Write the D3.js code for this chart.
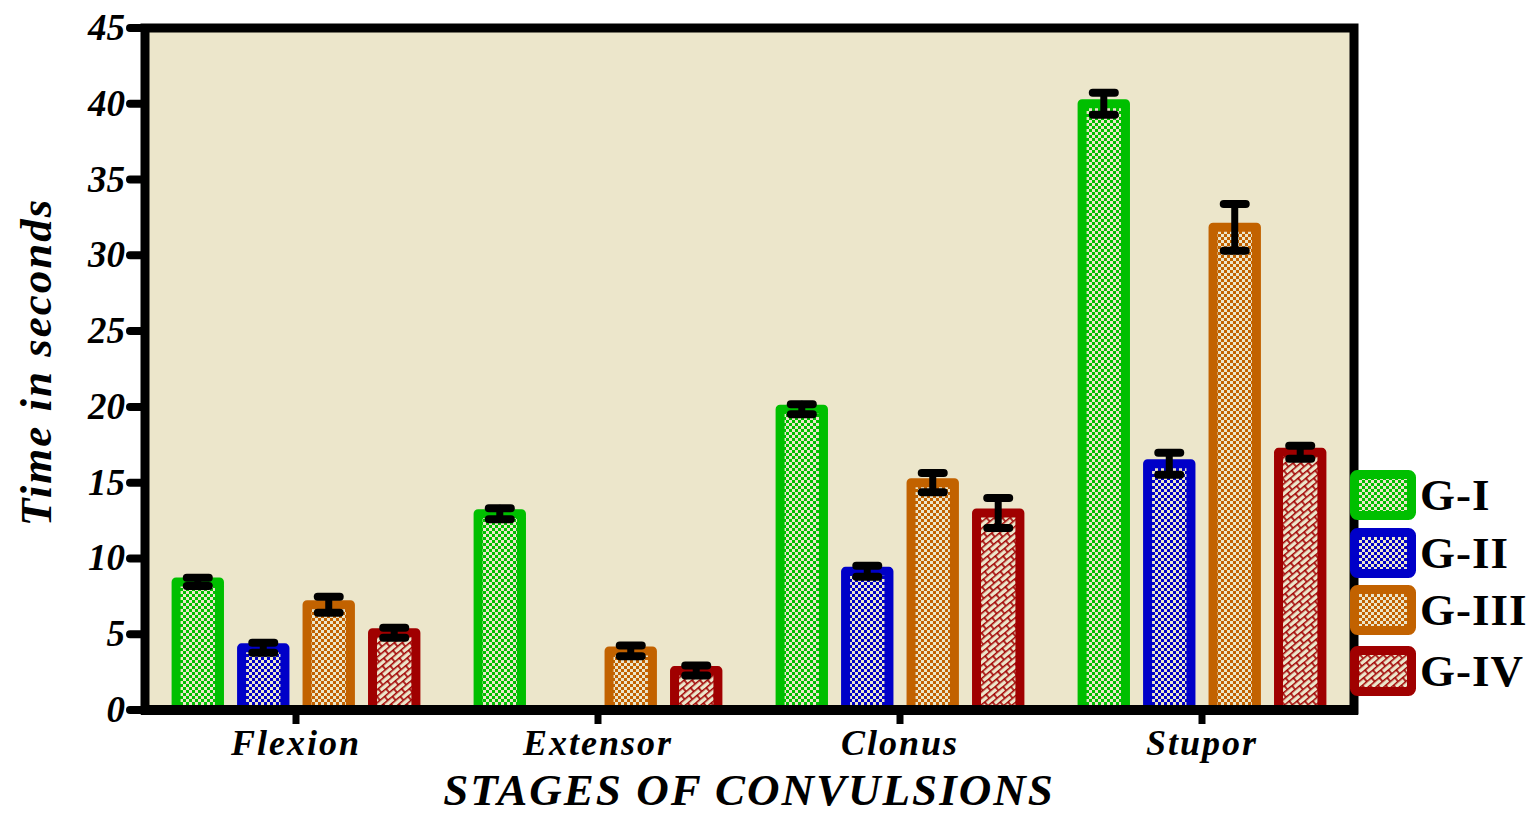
<!DOCTYPE html>
<html>
<head>
<meta charset="utf-8">
<script src="https://cdn.jsdelivr.net/npm/d3@7"></script>
<style>
  body { margin: 0; background: #fff; }
  text { font-family: "Liberation Serif", "Times New Roman", serif; font-weight: bold; }
</style>
</head>
<body>
<script>
// chart data
var stages = ["Flexion", "Extensor", "Clonus", "Stupor"];
var groups = ["G-I", "G-II", "G-III", "G-IV"];
var means = [
  [8.45, 12.95, 19.85, 40.0],  // G-I
  [4.1, 0.0, 9.15, 16.25],     // G-II
  [6.95, 3.9, 15.0, 31.85],    // G-III
  [5.1, 2.6, 13.0, 17.0]       // G-IV
];
var errs = [
  [0.27, 0.36, 0.33, 0.73],
  [0.33, 0.0, 0.36, 0.73],
  [0.53, 0.36, 0.63, 1.54],
  [0.33, 0.33, 0.99, 0.43]
];
var yTicks = [0, 5, 10, 15, 20, 25, 30, 35, 40, 45];
var colors = ["#00bf00", "#0000c8", "#c26200", "#a00000"];

const w = 1533, h = 816;
const bg = "#ece6cb";
const pLeft = 145, pRight = 1354, pTop = 28, pBottom = 710;

const svg = d3.select("body").append("svg").attr("width", w).attr("height", h);
const defs = svg.append("defs");

// fill patterns: checker for G-I..G-III, brick for G-IV
colors.forEach(function(c, i){
  var p = defs.append("pattern")
    .attr("id", "pat" + i)
    .attr("patternUnits", "userSpaceOnUse");
  if (i < 3) {
    p.attr("width", 6).attr("height", 6);
    p.append("rect").attr("width", 6).attr("height", 6).attr("fill", bg);
    p.append("rect").attr("width", 3).attr("height", 3).attr("fill", c);
    p.append("rect").attr("x", 3).attr("y", 3).attr("width", 3).attr("height", 3).attr("fill", c);
  } else {
    p.attr("width", 12).attr("height", 10).attr("patternTransform", "rotate(-40)");
    p.append("rect").attr("width", 12).attr("height", 10).attr("fill", bg);
    p.append("path")
      .attr("d", "M0,0.75H12M0,5.75H12M3,0.75V5.75M9,5.75V10.75")
      .attr("stroke", c).attr("stroke-width", 1.6).attr("fill", "none");
  }
});

const x0 = d3.scaleBand().domain(stages).range([pLeft, pRight - 1]);
const x1 = d3.scaleBand().domain(groups).range([13.5, 288.5]).padding(0.2);
const yScale = d3.scaleLinear().domain([0, 45]).range([pBottom, pTop]);

// plot background
svg.append("rect")
   .attr("x", pLeft).attr("y", pTop)
   .attr("width", pRight - pLeft).attr("height", pBottom - pTop)
   .attr("fill", bg);

const sw = 9;
// bars (border centred on the value)
groups.forEach(function(g, gi){
  svg.append("g").selectAll("rect")
    .data(stages)
    .enter()
    .append("rect")
    .attr("x", (d) => x0(d) + x1(g) + sw / 2)
    .attr("width", x1.bandwidth() - sw)
    .attr("y", (d, i) => yScale(means[gi][i]))
    .attr("height", (d, i) => yScale(0) - yScale(means[gi][i]))
    .attr("fill", "url(#pat" + gi + ")")
    .attr("stroke", colors[gi])
    .attr("stroke-width", (d, i) => means[gi][i] > 0 ? sw : 0)
    .attr("stroke-linejoin", "round");
});

// error bars
groups.forEach(function(g, gi){
  stages.forEach(function(s, i){
    if (errs[gi][i] <= 0) return;
    var cx = x0(s) + x1(g) + x1.bandwidth() / 2;
    var hi = yScale(means[gi][i] + errs[gi][i]);
    var lo = yScale(means[gi][i] - errs[gi][i]);
    var eb = svg.append("g").attr("stroke", "#000").attr("stroke-linecap", "round");
    eb.append("line").attr("x1", cx).attr("x2", cx).attr("y1", hi).attr("y2", lo).attr("stroke-width", 7);
    eb.append("line").attr("x1", cx - 11).attr("x2", cx + 11).attr("y1", hi).attr("y2", hi).attr("stroke-width", 8);
    eb.append("line").attr("x1", cx - 11).attr("x2", cx + 11).attr("y1", lo).attr("y2", lo).attr("stroke-width", 8);
  });
});

// frame
svg.append("rect")
   .attr("x", pLeft).attr("y", pTop)
   .attr("width", pRight - pLeft).attr("height", pBottom - pTop)
   .attr("fill", "none").attr("stroke", "#000").attr("stroke-width", 9);
svg.append("line")
   .attr("x1", pLeft - 4).attr("x2", pRight + 4).attr("y1", pBottom).attr("y2", pBottom)
   .attr("stroke", "#000").attr("stroke-width", 10);

// y axis ticks
const yAxis = svg.append("g");
yTicks.forEach(function(t){
  yAxis.append("line")
    .attr("x1", 130).attr("x2", pLeft).attr("y1", yScale(t)).attr("y2", yScale(t))
    .attr("stroke", "#000").attr("stroke-width", 8).attr("stroke-linecap", "round");
  yAxis.append("text")
    .attr("x", 125).attr("y", yScale(t) + 12)
    .attr("text-anchor", "end")
    .attr("font-style", "italic")
    .attr("font-size", 37)
    .text(t);
});

// x axis ticks + labels
const xAxis = svg.append("g");
stages.forEach(function(s){
  var cx = x0(s) + x0.bandwidth() / 2;
  xAxis.append("line")
    .attr("x1", cx).attr("x2", cx).attr("y1", pBottom).attr("y2", 724)
    .attr("stroke", "#000").attr("stroke-width", 7);
  xAxis.append("text")
    .attr("x", cx).attr("y", 755)
    .attr("text-anchor", "middle")
    .attr("font-style", "italic")
    .attr("font-size", 36)
    .attr("letter-spacing", 2)
    .text(s);
});

// axis titles
svg.append("text")
   .attr("x", 749).attr("y", 805)
   .attr("text-anchor", "middle")
   .attr("font-style", "italic")
   .attr("font-size", 45)
   .attr("letter-spacing", 2)
   .text("STAGES OF CONVULSIONS");

svg.append("text")
   .attr("transform", "translate(51,362) rotate(-90)")
   .attr("text-anchor", "middle")
   .attr("font-style", "italic")
   .attr("font-size", 45)
   .attr("letter-spacing", 2)
   .text("Time in seconds");

// legend
var legY = [470, 528, 585, 646];
groups.forEach(function(g, gi){
  svg.append("rect")
    .attr("x", 1354.5).attr("y", legY[gi] + 4.5)
    .attr("width", 57).attr("height", 41)
    .attr("rx", 3)
    .attr("fill", "url(#pat" + gi + ")")
    .attr("stroke", colors[gi]).attr("stroke-width", 9)
    .attr("stroke-linejoin", "round");
  svg.append("text")
    .attr("x", 1420).attr("y", legY[gi] + 40)
    .attr("font-size", 45)
    .attr("letter-spacing", 1)
    .text(g);
});
</script>
</body>
</html>
